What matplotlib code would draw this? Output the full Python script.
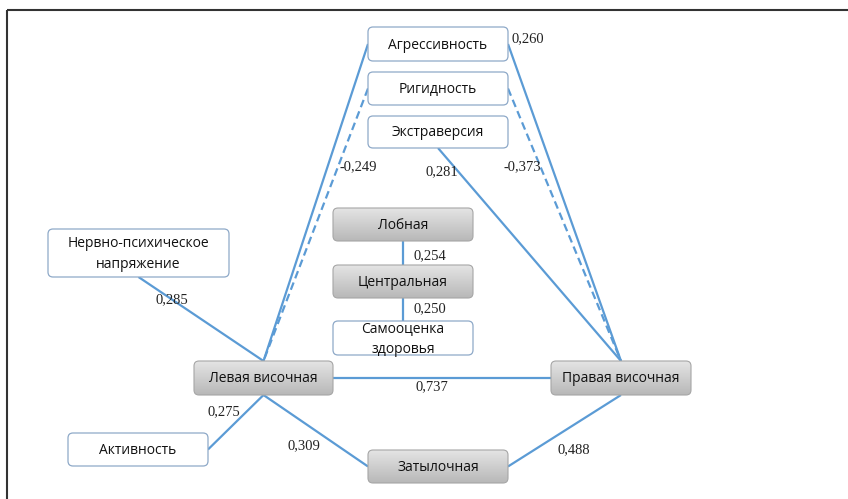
import matplotlib
matplotlib.use("Agg")
import matplotlib.pyplot as plt
from matplotlib.patches import FancyBboxPatch
import numpy as np

# ---- data ----
nodes = ["Агрессивность", "Ригидность", "Экстраверсия", "Лобная",
         "Нервно-психическое\nнапряжение", "Центральная", "Самооценка\nздоровья",
         "Левая височная", "Правая височная", "Активность", "Затылочная"]
node_kind = ["w", "w", "w", "g", "w", "g", "w", "g", "g", "w", "g"]

edge_src = ["Агрессивность", "Ригидность", "Агрессивность", "Ригидность", "Экстраверсия",
            "Нервно-психическое\nнапряжение", "Активность", "Левая височная", "Затылочная",
            "Левая височная", "Лобная", "Центральная"]
edge_dst = ["Левая височная", "Левая височная", "Правая височная", "Правая височная",
            "Правая височная", "Левая височная", "Левая височная", "Затылочная",
            "Правая височная", "Правая височная", "Центральная", "Самооценка\nздоровья"]
edge_val = [None, -0.249, 0.260, -0.373, 0.281, 0.285, 0.275, 0.309, 0.488, 0.737, 0.254, 0.250]

# ---- layout (pixel coordinates) ----
box = {
    "Агрессивность": (368, 27, 508, 61),
    "Ригидность": (368, 72, 508, 105),
    "Экстраверсия": (368, 116, 508, 148),
    "Лобная": (333, 208, 473, 241),
    "Нервно-психическое\nнапряжение": (48, 229, 229, 277),
    "Центральная": (333, 265, 473, 298),
    "Самооценка\nздоровья": (333, 321, 473, 355),
    "Левая височная": (194, 361, 333, 395),
    "Правая височная": (551, 361, 691, 395),
    "Активность": (68, 433, 208, 466),
    "Затылочная": (368, 450, 508, 483),
}
edge_sides = [("left", "top"), ("left", "top"), ("right", "top"), ("right", "top"),
              ("bottom", "top"), ("bottom", "top"), ("right", "bottom"), ("bottom", "left"),
              ("right", "bottom"), ("right", "left"), ("bottom", "top"), ("bottom", "top")]
label_pos = [None, (340, 167), (512, 39), (504, 167), (426, 172), (155, 300), (207, 412),
             (287, 446), (558, 450), (415, 387), (413, 256), (413, 309)]

W, H = 848, 499
fig = plt.figure(figsize=(W / 100, H / 100), dpi=100)
ax = fig.add_axes([0, 0, 1, 1])
ax.set_xlim(0, W)
ax.set_ylim(H, 0)
ax.axis("off")

LINE = "#5b9bd5"

def anchor(name, side):
    x0, y0, x1, y1 = box[name]
    cx, cy = (x0 + x1) / 2, (y0 + y1) / 2
    return {"left": (x0, cy), "right": (x1, cy), "top": (cx, y0), "bottom": (cx, y1)}[side]

for s, d, v, sides, lp in zip(edge_src, edge_dst, edge_val, edge_sides, label_pos):
    p0 = anchor(s, sides[0])
    p1 = anchor(d, sides[1])
    dashed = v is not None and v < 0
    ax.plot([p0[0], p1[0]], [p0[1], p1[1]], color=LINE, lw=1.6,
            ls=(0, (3.5, 2)) if dashed else "-", zorder=1, solid_capstyle="butt")
    if v is not None and lp is not None:
        txt = f"{v:.3f}".replace(".", ",")
        ax.text(lp[0], lp[1], txt, fontsize=10.5, family="Liberation Serif",
                ha="left", va="center", color="#222222", zorder=5)

grad = np.linspace(0, 1, 64).reshape(-1, 1)
gcmap = matplotlib.colors.LinearSegmentedColormap.from_list("g", ["#e4e4e4", "#b8b8b8"])
for name, kind in zip(nodes, node_kind):
    x0, y0, x1, y1 = box[name]
    w, h = x1 - x0, y1 - y0
    if kind == "g":
        p = FancyBboxPatch((x0, y0), w, h, boxstyle="round,pad=0,rounding_size=5",
                           facecolor="none", edgecolor="#a6a6a6", lw=0.8, zorder=3)
        ax.add_patch(p)
        im = ax.imshow(grad, cmap=gcmap, extent=(x0, x1, y1, y0), aspect="auto",
                       zorder=2, origin="upper")
        im.set_clip_path(p)
    else:
        p = FancyBboxPatch((x0, y0), w, h, boxstyle="round,pad=0,rounding_size=5",
                           facecolor="white", edgecolor="#8ea9c8", lw=0.9, zorder=3)
        ax.add_patch(p)
    ax.text((x0 + x1) / 2, (y0 + y1) / 2 + 1, name, ha="center", va="center",
            fontsize=10, family="Open Sans", color="#111111", zorder=4,
            linespacing=1.5)

ax.set_xlim(0, W)
ax.set_ylim(H, 0)

# frame: top and left lines
ax.plot([6.5, W], [10, 10], color="#333333", lw=1.5, zorder=6, solid_capstyle="butt")
ax.plot([6.5, 6.5], [10, H], color="#333333", lw=1.5, zorder=6, solid_capstyle="butt")

fig.savefig("out.png", dpi=100)
